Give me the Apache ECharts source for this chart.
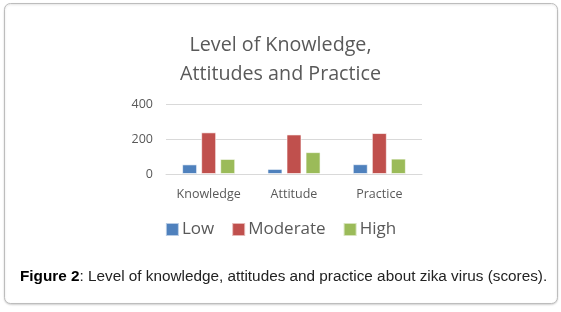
<!DOCTYPE html>
<html><head><meta charset="utf-8">
<script src="https://cdn.jsdelivr.net/npm/echarts@6/dist/echarts.min.js"></script>
<style>html,body{margin:0;padding:0;background:#fff}#c{width:561px;height:312px}</style>
</head><body><div id="c"></div>
<script>
const categories = ['Knowledge', 'Attitude', 'Practice'];
const lowValues = [55, 29, 56];
const moderateValues = [238, 226, 234];
const highValues = [86, 125, 88];
const yTicks = [0, 200, 400];
const titleText = 'Level of Knowledge,\nAttitudes and Practice';
const captionBold = 'Figure 2';
const captionRest = ': Level of knowledge, attitudes and practice about zika virus (scores).';

const chart = echarts.init(document.getElementById('c'), null, {renderer: 'canvas'});
const font = 'Open Sans';
const grey = '#595959';
const bar = (name, data, color) => ({
  name, type: 'bar', data, barWidth: 15, barGap: '27%',
  itemStyle: {color, borderColor: 'rgba(255,255,255,0.6)', borderWidth: 1},
  emphasis: {disabled: true}
});
chart.setOption({
  animation: false,
  title: {
    text: titleText, left: 'center', top: 26, itemGap: 0,
    textStyle: {fontFamily: font, fontSize: 19.7, fontWeight: 'normal', color: grey, lineHeight: 29}
  },
  legend: {
    data: ['Low', 'Moderate', 'High'], top: 216, left: 'center',
    itemWidth: 13, itemHeight: 13, itemGap: 17, icon: 'rect',
    textStyle: {fontFamily: font, fontSize: 17, color: grey, padding: [0, 0, 0, -2]}
  },
  grid: {left: 166, right: 139, top: 104, bottom: 138, containLabel: false},
  xAxis: {
    type: 'category', data: categories,
    axisLine: {lineStyle: {color: '#d9d9d9'}}, axisTick: {show: false},
    axisLabel: {fontFamily: font, fontSize: 12.5, color: grey, margin: 14}
  },
  yAxis: {
    type: 'value', min: yTicks[0], max: yTicks[yTicks.length - 1], interval: 200,
    axisLine: {show: false}, axisTick: {show: false},
    splitLine: {lineStyle: {color: '#d9d9d9'}},
    axisLabel: {fontFamily: font, fontSize: 12.5, color: grey, margin: 13}
  },
  series: [
    bar('Low', lowValues, '#4F81BD'),
    bar('Moderate', moderateValues, '#C0504D'),
    bar('High', highValues, '#9BBB59')
  ],
  graphic: [
    {type: 'rect', shape: {x: 4.5, y: 3.5, width: 553, height: 300, r: 6}, silent: true, z: -1,
      style: {fill: '#fff', stroke: '#bdbdbd', lineWidth: 1, shadowColor: 'rgba(0,0,0,0.15)', shadowBlur: 2, shadowOffsetY: 1}},
    {type: 'text', left: 20, top: 269, silent: true,
      style: {text: '{b|' + captionBold + '}{r|' + captionRest + '}',
        rich: {b: {fontFamily: 'Liberation Sans', fontWeight: 'bold', fontSize: 15.3, fill: '#000'},
               r: {fontFamily: 'Liberation Sans', fontSize: 15.3, fill: '#222'}}}}
  ]
});
</script></body></html>
